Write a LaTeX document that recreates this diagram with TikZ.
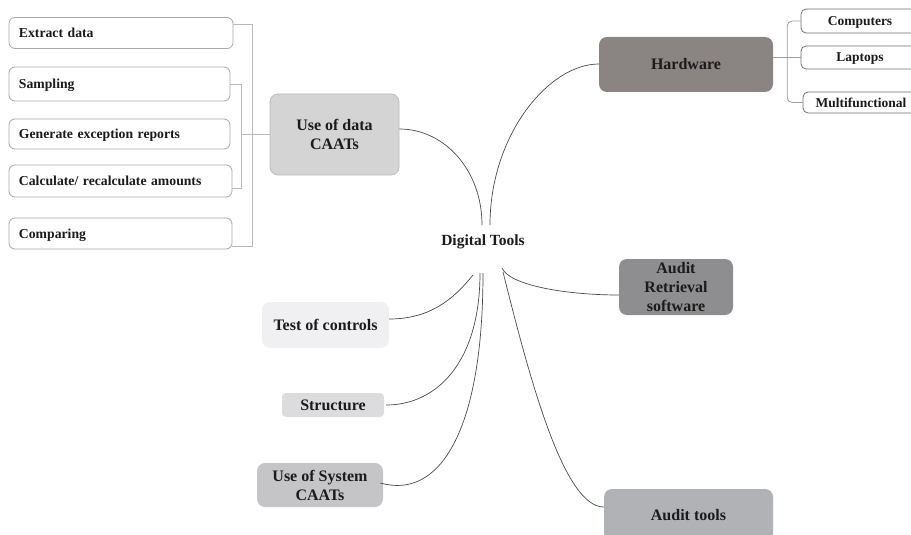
\documentclass[tikz,border=0pt]{standalone}
\usepackage{fontspec}
\setmainfont{Liberation Serif}
\definecolor{txt}{HTML}{1C1A1A}
\definecolor{leafb}{HTML}{A9A9A9}
\definecolor{brc}{HTML}{B9B9B9}
\definecolor{rleafb}{HTML}{6F6F6F}
\definecolor{rbc}{HTML}{9D9D9D}
\definecolor{caatsf}{HTML}{D4D4D4}
\definecolor{caatsb}{HTML}{BDBDBD}
\definecolor{hwf}{HTML}{8A8483}
\definecolor{arsf}{HTML}{8E8E91}
\definecolor{atf}{HTML}{B1B2B6}
\definecolor{tcf}{HTML}{F0F0F2}
\definecolor{stf}{HTML}{DCDCDE}
\definecolor{usf}{HTML}{C5C5C7}
\definecolor{linec}{HTML}{4A4A4A}
\begin{document}
\begin{tikzpicture}[x=1pt,y=-1pt,
  every node/.style={text=txt},
  leaf/.style={draw=leafb, fill=white, line width=0.8pt, rounded corners=6pt, inner xsep=10pt, inner ysep=0pt, align=left, text height=9.5pt, text depth=0.5pt, font=\fontsize{13.7}{16}\selectfont\bfseries},
  rleaf/.style={draw=rleafb, fill=white, line width=0.8pt, rounded corners=5pt, inner sep=0pt, align=center, text height=9.3pt, text depth=0.3pt, font=\fontsize{13.5}{16}\selectfont\bfseries, minimum width=118pt},
  topic/.style={rounded corners=8pt, inner sep=0pt, align=center, font=\fontsize{16}{19}\selectfont\bfseries},
  branch/.style={draw=linec, line width=0.7pt},
  bracket/.style={draw=brc, line width=0.8pt},
  rbracket/.style={draw=rbc, line width=0.8pt}]
\useasboundingbox (0,0) rectangle (911,535);
\clip (0,0) rectangle (911,535);

% left leaves
\node[leaf, text width=204pt, minimum height=31pt] (extract) at (121,33) {Extract data};
\node[leaf, text width=201pt, minimum height=34pt] (sampling) at (119.5,84) {Sampling};
\node[leaf, text width=201pt, minimum height=30pt] (generate) at (119.5,134) {Generate exception reports};
\node[leaf, text width=203pt, minimum height=32pt] (calc) at (120.5,181) {Calculate/ recalculate amounts};
\node[leaf, text width=203pt, minimum height=31pt] (comparing) at (120.5,233.5) {Comparing};

% topics
\node[topic, fill=caatsf, draw=caatsb, line width=0.8pt, minimum width=129pt, minimum height=81pt] (caats) at (334.5,134.5) {Use of data\\CAATs};
\node[topic, fill=hwf, minimum width=174pt, minimum height=55pt] (hw) at (686,64.5) {Hardware};
\node[rleaf, minimum height=24pt] (comp) at (860,21) {Computers};
\node[rleaf, minimum height=23pt] (lap) at (860,57.5) {Laptops};
\node[rleaf, minimum height=21pt, minimum width=116pt] (multi) at (861,102.5) {Multifunctional};

\node[font=\fontsize{15.5}{18}\selectfont\bfseries, inner sep=2pt] (dt) at (483,242) {Digital Tools};

\node[topic, fill=arsf, minimum width=114pt, minimum height=56pt] (ars) at (676,287) {Audit\\Retrieval\\software};
\node[topic, fill=atf, minimum width=169pt, minimum height=52pt] (at) at (688.5,515) {Audit tools};
\node[topic, fill=tcf, minimum width=127pt, minimum height=46pt] (tc) at (325.5,325) {Test of controls};
\node[topic, fill=stf, minimum width=102pt, minimum height=24pt, rounded corners=4pt] (st) at (333,405) {Structure};
\node[topic, fill=usf, minimum width=126pt, minimum height=44pt] (us) at (320,485) {Use of System\\CAATs};

% brackets
\draw[bracket] ([yshift=9pt]extract.east) -- ++(19,0) |- ([yshift=-12.5pt]comparing.east);
\coordinate (ib) at ([xshift=10.5pt]sampling.east);
\draw[bracket] (sampling.east) -- (ib) |- ([yshift=-7pt]calc.east);
\draw[bracket] (ib |- caats.west) -- (caats.west);

\coordinate (rb) at ([xshift=14pt]hw.east);
\draw[rbracket, rounded corners=5pt] (comp.west) -| (rb) |- (multi.west);
\draw[rbracket] (hw.east |- lap.west) -- (lap.west);

% branches
\draw[branch] ([shift={(-1,-17)}]dt.center) .. controls +(0,-55) and +(45,0) .. ([yshift=5.5pt]caats.east);
\draw[branch] ([shift={(7,-17)}]dt.center) .. controls +(0,-90) and +(-50,0) .. ([yshift=0.5pt]hw.west);
\draw[branch] ([shift={(19,26)}]dt.center) .. controls +(8,18) and +(-50,0) .. ([yshift=-8pt]ars.west);
\draw[branch] ([shift={(20,30)}]dt.center) .. controls +(27,108) and +(-40,0) .. ([yshift=8pt]at.west);
\draw[branch] ([shift={(-10,33)}]dt.center) .. controls +(-20,25) and +(40,0) .. ([yshift=6pt]tc.east);
\draw[branch] ([shift={(-3,31)}]dt.center) .. controls +(0,90) and +(50,0) .. ([xshift=2pt]st.east);
\draw[branch] ([shift={(0,31)}]dt.center) .. controls +(0,157) and +(60,17) .. ([shift={(-3,-2)}]us.east);
\end{tikzpicture}
\end{document}
